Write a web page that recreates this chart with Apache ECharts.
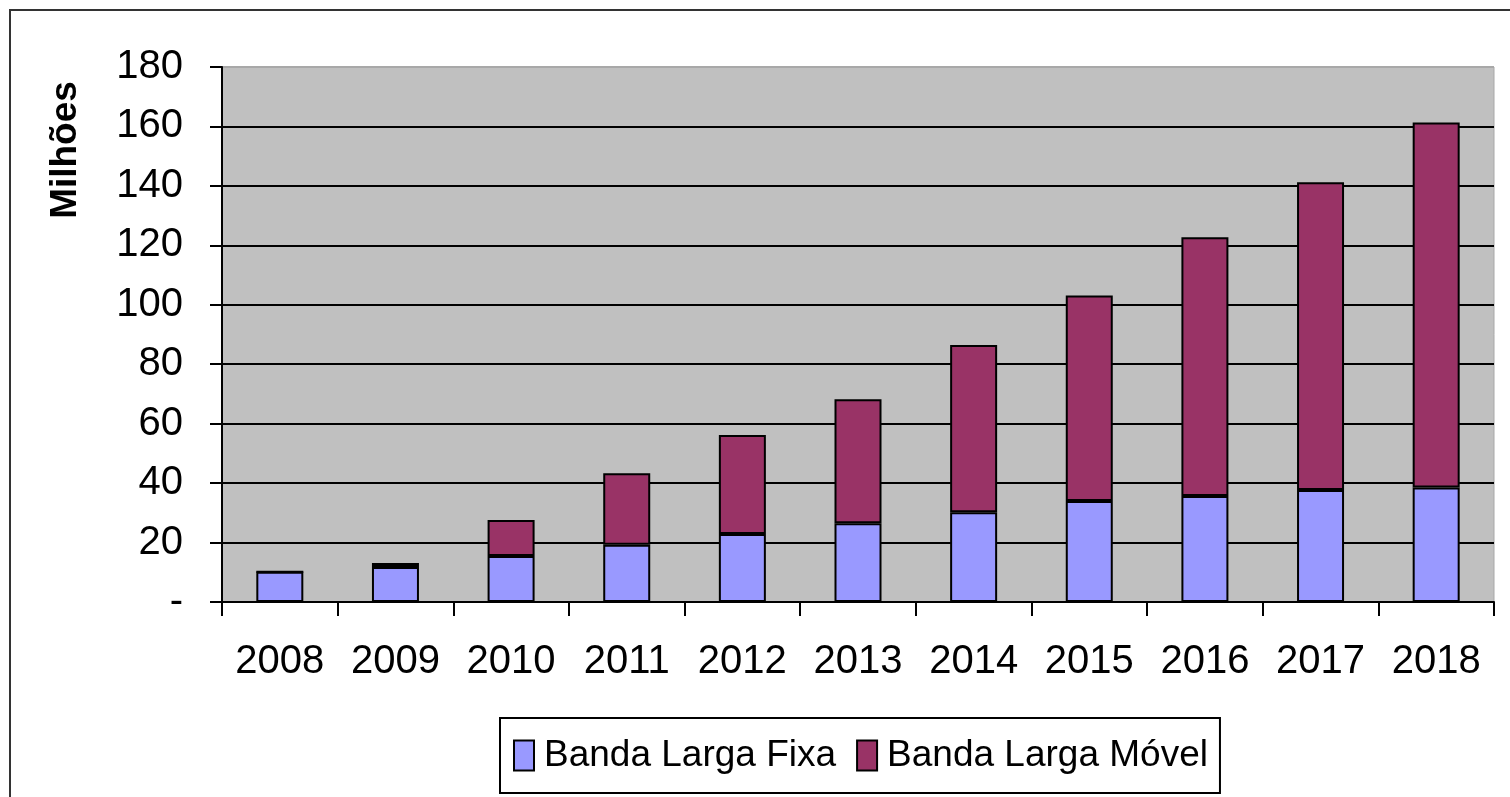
<!DOCTYPE html>
<html>
<head>
<meta charset="utf-8">
<script src="https://cdn.jsdelivr.net/npm/echarts@6/dist/echarts.min.js"></script>
<style>
  html, body { margin: 0; padding: 0; background: #fff; }
  #chart { width: 1510px; height: 797px; }
</style>
</head>
<body>
<div id="chart"></div>
<script>
var anos = ['2008', '2009', '2010', '2011', '2012', '2013', '2014', '2015', '2016', '2017', '2018'];
var fixa = [10.2, 11.8, 15.5, 19.3, 22.9, 26.5, 30.2, 34.0, 35.7, 37.7, 38.5];
var movel = [0, 1.3, 12.1, 24.0, 33.3, 41.7, 56.3, 69.1, 87.0, 103.5, 122.8];
var nomes = ['Banda Larga Fixa', 'Banda Larga Móvel'];

var chart = echarts.init(document.getElementById('chart'));

// gridline at 180 is the grey plot border, not black
var gridCores = ['#000', '#000', '#000', '#000', '#000', '#000', '#000', '#000', '#000', '#a8a8a8'];

var fonte = 'Liberation Sans, Arial, sans-serif';

var option = {
  backgroundColor: '#ffffff',
  animation: false,
  color: ['#9999FF', '#993366'],
  grid: {
    left: 222,
    right: 16,
    top: 67,
    bottom: 195,
    show: true,
    backgroundColor: '#C0C0C0',
    borderColor: '#a8a8a8',
    borderWidth: 1
  },
  graphic: [
    {
      type: 'rect',
      shape: { x: 10, y: 10, width: 1520, height: 820 },
      style: { fill: 'none', stroke: '#333', lineWidth: 2 },
      silent: true
    },
    {
      type: 'text',
      x: 66,
      y: 150,
      rotation: Math.PI / 2,
      style: {
        text: 'Milhões',
        font: 'bold 37px ' + fonte,
        fill: '#000',
        align: 'center',
        verticalAlign: 'middle'
      }
    }
  ],
  legend: {
    left: 500,
    top: 718,
    data: nomes,
    icon: 'rect',
    itemWidth: 20,
    itemHeight: 30,
    itemGap: 20,
    padding: [19, 12, 19, 13],
    borderColor: '#000',
    borderWidth: 2,
    textStyle: { fontSize: 37, fontFamily: fonte, color: '#000', padding: [0, 0, 0, 5] }
  },
  xAxis: {
    type: 'category',
    data: anos,
    axisLine: { lineStyle: { color: '#000', width: 2 } },
    axisTick: { show: true, interval: 0, length: 14, lineStyle: { color: '#000', width: 2 } },
    axisLabel: { interval: 0, fontSize: 40, fontFamily: fonte, color: '#000', margin: 40 }
  },
  yAxis: {
    type: 'value',
    min: 0,
    max: 180,
    interval: 20,
    axisLine: { show: true, lineStyle: { color: '#000', width: 2 } },
    axisTick: { show: true, length: 12, lineStyle: { color: '#000', width: 2 } },
    axisLabel: {
      fontSize: 40,
      fontFamily: fonte,
      color: '#000',
      margin: 39,
      formatter: function (v) { return v === 0 ? '-' : v; }
    },
    splitLine: { show: true, lineStyle: { color: gridCores, width: 2 } }
  },
  series: [
    {
      name: nomes[0],
      type: 'bar',
      stack: 'total',
      barWidth: 47,
      data: fixa,
      itemStyle: { color: '#9999FF', borderColor: '#000', borderWidth: 2 }
    },
    {
      name: nomes[1],
      type: 'bar',
      stack: 'total',
      barWidth: 47,
      data: movel,
      itemStyle: { color: '#993366', borderColor: '#000', borderWidth: 2 }
    }
  ]
};

chart.setOption(option);
</script>
</body>
</html>
